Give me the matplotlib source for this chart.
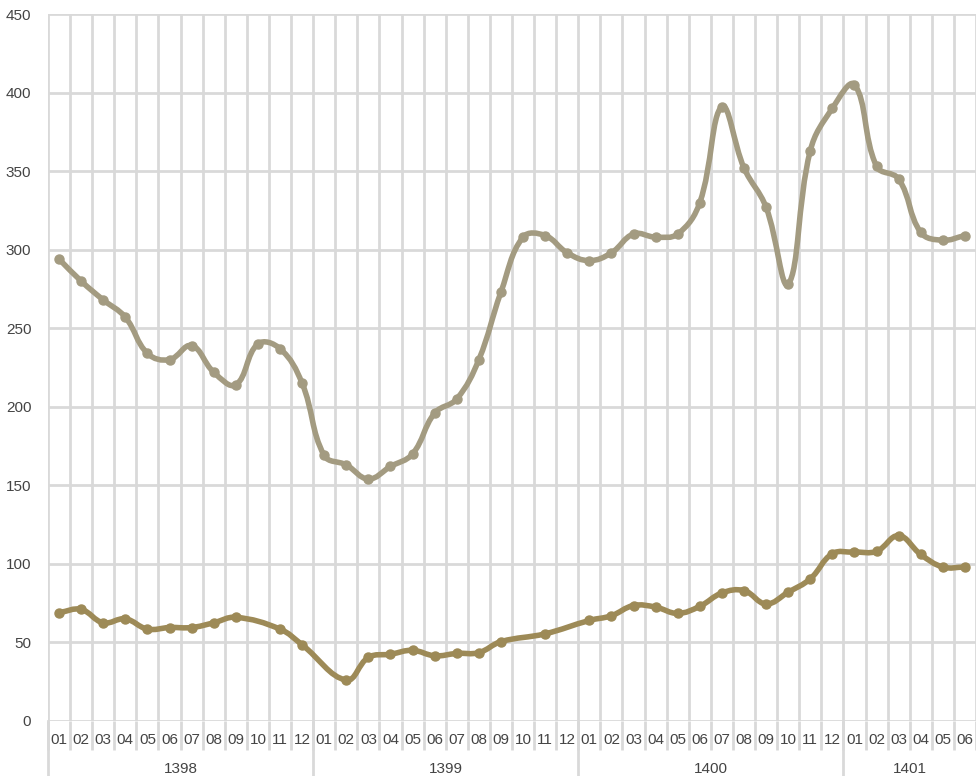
import numpy as np
import matplotlib
matplotlib.use("Agg")
import matplotlib.pyplot as plt
from matplotlib.path import Path
from matplotlib.patches import PathPatch
import matplotlib.transforms as mtransforms

plt.rcParams['font.family'] = ['Liberation Sans', 'DejaVu Sans']

years = ["1398", "1399", "1400", "1401"]
months_per_year = [12, 12, 12, 6]
month_labels = [f"{m:02d}" for n in months_per_year for m in range(1, n + 1)]

upper = [294, 280, 268, 257, 234, 230, 239, 222, 214, 240, 237, 215,
         169, 163, 154, 162, 170, 196, 205, 230, 273, 308, 309, 298,
         293, 298, 310, 308, 310, 330, 391, 352, 327, 278, 363, 390,
         405, 353, 345, 311, 306, 309]
lower = [69, 71, 62.5, 65, 58.5, 59.5, 59.5, 62.5, 66, np.nan, 58.5, 48.5,
         np.nan, 26, 40.5, 42.5, 45, 41.5, 43, 43.5, 50.5, np.nan, 55.5, np.nan,
         64, 67, 73.5, 72.5, 68.5, 73, 81.5, 83, 74.5, 82, 90.5, 106.5,
         107.5, 108, 118, 106, 98, 98]

upper_color = "#a39b81"
lower_color = "#9d8a57"
grid_color = "#d9d9d9"
text_color = "#444444"
fs = 11

W, H = 976, 776
fig = plt.figure(figsize=(W / 100, H / 100), dpi=100)
ax = fig.add_axes([48 / W, (H - 721) / H, 928 / W, 707 / H])
n = len(month_labels)
ax.set_xlim(-0.5, n - 0.5)
ax.set_ylim(0, 450)
for s in ax.spines.values():
    s.set_visible(False)

ax.set_yticks(np.arange(0, 451, 50))
ax.tick_params(axis='y', length=0, pad=12, labelsize=fs, labelcolor=text_color)
ax.set_xticks(np.arange(n))
ax.set_xticklabels(month_labels)
ax.tick_params(axis='x', which='major', length=0, pad=9, labelsize=fs, labelcolor=text_color)
ax.set_xticks(np.arange(-0.5, n, 1.0), minor=True)
ax.tick_params(axis='x', which='minor', length=21, width=2, color=grid_color, direction='out')
ax.grid(True, which='major', axis='y', color=grid_color, linewidth=2)
ax.grid(True, which='minor', axis='x', color=grid_color, linewidth=2)
ax.set_axisbelow(True)

fig.canvas.draw()
trans = mtransforms.blended_transform_factory(ax.transData, ax.transAxes)

# group labels and separators
start = 0
for y, cnt in zip(years, months_per_year):
    ax.text(start + cnt / 2 - 0.5, -48 / 707, y, transform=trans, ha='center', va='center',
            fontsize=fs, color=text_color)
    ax.plot([start - 0.5, start - 0.5], [0, -60 / 707], transform=trans, color=grid_color,
            lw=2, clip_on=False, zorder=0)
    start += cnt


def smooth_path(xs, ys, tension=0.4):
    pts = ax.transData.transform(np.column_stack([xs, ys]))
    m = len(pts)
    verts = [pts[0]]
    codes = [Path.MOVETO]
    cps = []
    for i in range(m):
        p = pts[i]
        prev = pts[i - 1] if i > 0 else p
        nxt = pts[i + 1] if i < m - 1 else p
        d01 = np.hypot(*(p - prev))
        d12 = np.hypot(*(nxt - p))
        tot = d01 + d12
        s01 = d01 / tot if tot else 0
        s12 = d12 / tot if tot else 0
        fa, fb = tension * s01, tension * s12
        cps.append((p - fa * (nxt - prev), p + fb * (nxt - prev)))
    for i in range(1, m):
        verts += [cps[i - 1][1], cps[i][0], pts[i]]
        codes += [Path.CURVE4] * 3
    verts = ax.transData.inverted().transform(np.array(verts))
    return Path(verts, codes)


for data, col in [(upper, upper_color), (lower, lower_color)]:
    arr = np.array(data, dtype=float)
    xs = np.arange(n)[~np.isnan(arr)]
    ys = arr[~np.isnan(arr)]
    path = smooth_path(xs, ys)
    ax.add_patch(PathPatch(path, facecolor='none', edgecolor=col, lw=4, capstyle='round',
                           joinstyle='round', zorder=3))
    ax.plot(xs, ys, 'o', color=col, markersize=6.5, zorder=4)

fig.savefig("out.png", dpi=100)
